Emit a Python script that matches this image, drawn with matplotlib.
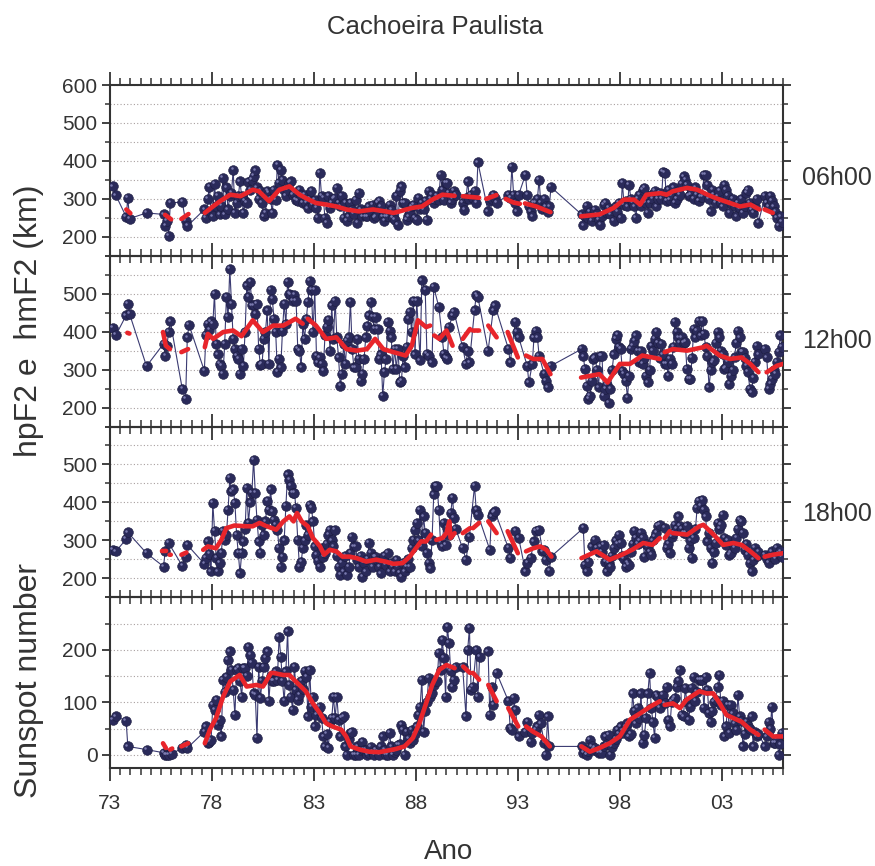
import numpy as np
import matplotlib
matplotlib.use("Agg")
import matplotlib.pyplot as plt
from matplotlib.ticker import FixedLocator, MultipleLocator
from matplotlib import transforms

plt.rcParams['font.family'] = ['Liberation Sans', 'DejaVu Sans']

n = np.nan
anos = np.arange(1973, 2006)

# medias mensais, uma linha por ano (1973 ... 2005)
h06 = [
    [n, 333, n, 309, n, n, n, n, n, 253, 302, 248],
    [n, n, n, n, n, n, n, n, n, 263, n, n],
    [n, n, n, n, n, n, n, 259, 228, 241, 202, 289],
    [n, n, n, n, n, n, 292, n, 241, 228, n, n],
    [n, n, n, n, n, n, n, 272, 250, 300, 331, 265],
    [254, 340, 282, 307, 259, 282, 355, 259, 330, 272, 307, 315],
    [377, 263, 289, 307, 346, 307, 263, 294, 289, 345, 324, 350],
    [360, 375, 330, 300, 320, 290, 254, 263, 320, 315, 300, 263],
    [324, 298, 390, 342, 377, 350, 324, 308, 324, 343, 346, 310],
    [315, 298, 294, 324, 311, 289, 311, 289, 275, 300, 320, 285],
    [298, 276, 250, 368, 307, 302, 250, 237, 307, 276, 290, 300],
    [302, 329, 289, 280, 307, 250, 289, 241, 254, 289, 270, 260],
    [298, 237, 315, 272, 254, 267, 254, 254, 280, 265, 285, 250],
    [254, 289, 294, 280, 254, 241, 254, 254, 285, 270, 250, 245],
    [307, 232, 320, 333, 289, 289, 245, 254, 265, 280, 285, 250],
    [245, 302, 272, 289, 272, 294, 245, 320, 300, 310, 290, 300],
    [307, 298, 364, 324, 298, 342, 342, 315, 289, 300, 320, 310],
    [n, n, n, 290, 270, 302, 346, 300, 311, 302, 320, 290],
    [396, n, n, n, n, n, 267, 294, 300, 311, 302, 289],
    [n, n, n, n, n, n, 311, 302, 384, 311, 289, 267],
    [311, n, n, n, 364, 311, 280, 267, 254, 289, 289, 300],
    [350, 289, 272, 300, 280, 265, 280, 331, n, n, n, n],
    [n] * 12,
    [n, 259, 230, 254, 282, 250, 265, 241, 254, 270, 259, 245],
    [232, 254, 285, 289, 263, 276, 259, 270, 241, 280, 265, 290],
    [250, 343, 285, 294, 280, 337, 300, 290, 280, 250, 300, 310],
    [280, 324, 329, 289, 263, 289, 311, 300, 320, 280, 300, 315],
    [300, 372, 368, 294, 324, 298, 307, 330, 290, 300, 320, 310],
    [340, 359, 350, 337, 307, 311, 320, 300, 330, 310, 295, 305],
    [305, 364, 364, 337, 300, 267, 324, 311, 290, 305, 320, 290],
    [280, 337, 324, 307, 263, 289, 300, 280, 254, 290, 275, 300],
    [263, 280, 315, 324, 289, 270, 263, 280, 300, 237, n, n],
    [n, 308, 289, 280, 307, 294, 280, 265, 250, 228, 254, 240],
]

h12 = [
    [n, 409, n, 391, n, n, n, n, n, 443, 474, 447],
    [n, n, n, n, n, n, n, n, n, 309, n, n],
    [n, n, n, n, n, n, n, 368, 337, 363, 399, 427],
    [n, n, n, n, n, n, 250, n, 222, 385, 418, n],
    [n, n, n, n, n, n, n, 297, 391, 421, 405, 427],
    [420, 500, 368, 340, 315, 310, 288, 368, 491, 438, 566, 474],
    [381, 354, 337, 328, 288, 354, 310, 400, 522, 491, 531, 469],
    [469, 447, 474, 354, 312, 315, 380, 399, 456, 315, 509, 487],
    [434, 399, 293, 328, 306, 403, 474, 420, 531, 500, 496, 482],
    [496, 482, 354, 350, 306, 420, 380, 434, 478, 533, 509, 400],
    [509, 337, 319, 332, 315, 297, 390, 412, 430, 350, 469, 380],
    [482, 385, 332, 257, 288, 368, 315, 376, 385, 478, 354, 306],
    [306, 381, 328, 271, 288, 328, 385, 416, 443, 478, 438, 407],
    [438, 407, 328, 340, 231, 293, 328, 425, 403, 385, 302, 354],
    [302, 354, 266, 271, 337, 306, 360, 434, 451, 400, 482, 340],
    [482, n, 324, 535, n, 509, 341, 337, n, 319, 518, n],
    [n, 465, n, 385, 341, 332, 328, 412, n, 443, 451, n],
    [n, n, n, 359, n, 315, 350, 319, n, n, 456, 496],
    [491, n, n, n, n, n, 350, n, n, 456, 469, n],
    [n, n, n, n, n, n, 354, 319, n, n, 425, 399],
    [385, n, n, n, n, 310, 266, n, 315, 385, 403, 385],
    [337, n, n, 288, 271, 253, n, 310, n, n, n, n],
    [n] * 12,
    [n, 354, 335, 301, 257, 222, 231, 271, 328, 332, 300, 253],
    [337, 337, 231, 249, 260, 213, 249, 300, 340, 381, 391, 360],
    [354, 297, 288, 271, 226, 284, 354, 363, 376, 390, 350, 320],
    [350, 315, 330, 284, 266, 300, 363, 350, 381, 399, 370, 330],
    [368, 340, 315, 315, 284, 328, 315, 360, 425, 399, 385, 370],
    [385, 370, 372, 301, 275, 275, 330, 407, 385, 403, 429, 390],
    [429, 394, 360, 337, 253, 300, 319, 324, 370, 399, 385, 350],
    [340, 301, 306, 320, 262, 284, 300, 332, 370, 403, 385, 346],
    [346, 330, 310, 293, 249, 240, 279, 320, 363, 340, n, n],
    [n, 354, 332, 249, 262, 275, 300, 288, 320, 346, 390, 360],
]

h18 = [
    [n, 275, n, 271, n, n, n, n, n, 303, 321, n],
    [n, n, n, n, n, n, n, n, n, 266, n, n],
    [n, n, n, n, n, n, n, 231, 271, n, 293, n],
    [n, n, n, n, n, n, 233, n, 257, 288, n, n],
    [n, n, n, n, n, n, n, 238, 253, 297, 265, 218],
    [399, 324, 253, 218, 240, 266, 324, 300, 315, 380, 465, 429],
    [434, 399, 315, 266, 213, 266, 297, 330, 438, 346, 400, 425],
    [513, 425, 354, 297, 266, 340, 315, 350, 403, 380, 434, 376],
    [354, 340, 328, 280, 231, 257, 300, 390, 474, 460, 443, 425],
    [425, 385, 301, 231, 244, 280, 300, 340, 315, 394, 385, 350],
    [284, 262, 245, 231, 279, 257, 266, 290, 315, 328, 300, 284],
    [328, 260, 231, 209, 240, 218, 260, 209, 231, 266, 310, 284],
    [284, 249, 231, 260, 204, 240, 218, 250, 293, 266, 231, 257],
    [257, 245, 231, 213, 240, 260, 235, 266, 218, 240, 230, 218],
    [249, 230, 215, 204, 240, 218, 231, 250, 231, 279, 301, 328],
    [346, 300, 381, 284, 363, 320, 266, 240, 226, 300, 421, 443],
    [443, 380, 293, 284, 346, 288, 332, 315, 372, 412, 360, 330],
    [n, n, n, 279, n, 249, n, 310, n, n, 443, 381],
    [368, n, n, n, n, n, n, 275, 363, 372, 376, n],
    [n, n, n, n, n, n, 279, 253, n, n, 324, n],
    [306, n, n, n, 218, 240, n, 253, n, 297, 324, n],
    [328, n, 271, 275, 249, n, 220, 257, n, n, n, n],
    [n] * 12,
    [n, n, 332, 235, 218, 244, n, 284, n, 301, 280, 270],
    [284, 270, 288, 244, 218, 240, 231, 260, 280, 300, 290, 315],
    [293, 260, 250, 231, 240, 235, 270, 290, 324, 306, 290, 300],
    [319, 306, 257, 290, 284, 270, 262, 300, 310, 320, 337, 341],
    [n, n, 332, 279, 290, 266, 310, 320, 341, 330, 363, 337],
    [330, 320, 320, 337, 279, 300, 253, 306, 330, 385, 403, 390],
    [407, 380, 363, 297, 320, 280, 240, 270, 293, 346, 330, 340],
    [368, 306, 288, 300, 262, 266, 290, 280, 306, 330, 354, 350],
    [320, 275, 290, 262, 240, 218, 249, 279, 260, 270, n, n],
    [n, 262, 250, 240, 260, 271, 260, 250, 279, 265, 271, 257],
]

manchas = [
    [n, 67, n, 73, n, n, n, n, n, 65, 16, n],
    [n, n, n, n, n, n, n, n, n, 10, n, n],
    [n, n, n, n, n, n, n, 4, 0, 0, 0, n],
    [2, n, n, n, n, n, 13, n, 19, 13, n, n],
    [n, n, n, n, n, n, n, 44, 54, 22, 25, 29],
    [95, 86, 105, 57, 67, 35, 143, 120, 149, 181, 197, 162],
    [124, 76, 162, 165, 140, 111, 165, 165, 150, 206, 190, 175],
    [117, 114, 32, 168, 108, 140, 168, 184, 197, 102, 150, 140],
    [140, 159, 143, 225, 187, 140, 102, 159, 235, 133, 110, 86],
    [168, 124, 105, 114, 140, 125, 160, 149, 73, 162, 92, 110],
    [54, 76, 86, 92, 70, 35, 16, 40, 13, 63, 70, 111],
    [70, 111, 67, 35, 70, 73, 16, 0, 30, 41, 44, 0],
    [0, 16, 0, 10, 25, 10, 10, 0, 3, 15, 5, 0],
    [10, 5, 0, 16, 35, 10, 0, 0, 41, 16, 0, 5],
    [10, 19, 20, 57, 48, 0, 44, 30, 22, 48, 29, 40],
    [54, 76, 92, 143, 44, 83, 100, 146, 111, 117, 133, 140],
    [140, 194, 162, 219, 184, 111, 244, 213, 160, 130, 143, 168],
    [n, n, n, 168, n, 73, 200, 241, 124, 130, n, 200],
    [111, 187, n, n, n, n, 197, 76, 130, 95, n, 156],
    [n, n, n, n, n, n, 102, 51, 48, 108, 86, n],
    [35, n, n, n, 44, 63, n, 25, 41, n, 48, 54],
    [76, 60, n, 22, 0, 73, 16, n, n, n, n, n],
    [n] * 12,
    [n, 16, 3, 10, 0, 8, 29, 16, 10, 13, 8, 3],
    [5, 4, 16, 35, 20, 38, 0, 15, 22, 30, 48, 40],
    [54, 45, 41, 54, 60, 35, 40, 117, 83, 60, 90, 70],
    [117, 22, 38, 70, 117, 156, 90, 63, 32, 114, 111, 89],
    [n, 114, 98, 130, 67, 54, 100, 105, 108, 130, 140, 162],
    [76, 73, 127, 100, 67, 92, 127, 149, 102, 120, 143, 143],
    [143, 89, 149, 124, 80, 63, 83, 100, 105, 130, 152, 95],
    [102, 35, 54, 95, 41, 95, 79, 60, 48, 114, 73, 65],
    [16, 40, 63, 54, 50, 73, 16, 44, 35, 40, n, n],
    [n, 16, 35, 63, 50, 92, 22, 22, 30, 0, 20, 41],
]

# medias corridas (linha vermelha), nan = interrupcao
m06_t = [73.8, 74.0, n, 75.7, 76.0, n, 76.5, 76.85, n, 77.65, 78.0, 78.4, 78.9, 79.4, 80.0, 80.3,
         80.8, 81.3, 81.8, 82.3, 82.6, 83.1, 83.6, 84.1, 84.6, 85.2, 85.9, 86.5, 86.9, 87.2, 87.8,
         88.3, 88.8, 89.3, 89.9, n, 90.3, 91.1, n, 91.45, 91.95, n, 92.4, 92.8, 93.1, n, 93.35,
         93.9, 94.6, n, 96.1, 97.0, 97.7, 98.2, 98.7, 99.0, 99.3, 100.0, 100.3, 100.6, 101.3,
         101.8, 102.3, 102.7, 103.4, 103.9, 104.4, 104.85, n, 105.1, 105.5]
m06_v = [272, 262, n, 258, 246, n, 247, 260, n, 263, 278, 294, 311, 307, 324, 320,
         294, 324, 333, 311, 302, 289, 285, 280, 272, 267, 272, 267, 263, 267, 276,
         280, 298, 311, 308, n, 307, 303, n, 300, 310, n, 300, 290, 287, n, 288,
         280, 265, n, 254, 259, 276, 298, 298, 285, 311, 315, 311, 320, 329,
         324, 311, 302, 289, 280, 285, 272, n, 272, 263]

m12_t = [73.85, 73.95, n, 75.6, 75.74, 75.94, n, 76.5, 76.83, n, 77.65, 77.8, 78.06, 78.55, 79.04,
         79.45, 80.0, 80.5, 81.0, 81.5, 82.1, 82.45, n, 82.7, 83.1, 83.6, 84.1, 84.6, 85.1, 85.6,
         86.0, 86.4, 86.9, 87.5, 87.8, 88.1, 88.5, 88.7, n, 88.9, 89.15, 89.5, 89.8, n, 90.3, 90.65,
         n, 90.8, 91.1, n, 91.55, 91.96, n, 92.5, 93.0, n, 93.4, 93.75, 94.2, 94.6, n, 96.1, 97.0,
         97.4, 98.0, 98.5, 99.1, 99.6, 99.96, n, 100.2, 100.6, 101.3, 102.1, 102.25, 102.9, 103.4,
         103.97, 104.4, 104.8, n, 105.2, 105.7, 106.0]
m12_v = [397, 395, n, 399, 363, 354, n, 346, 354, n, 359, 394, 381, 399, 403,
         388, 430, 399, 416, 416, 434, 421, n, 434, 416, 381, 385, 354, 350, 354,
         381, 354, 346, 337, 363, 430, 412, 416, n, 390, 381, 403, 363, n, 381, 407,
         n, 403, 403, n, 416, 385, n, 399, 332, n, 337, 328, 328, 288, n, 279, 288,
         266, 315, 315, 337, 332, 328, n, 346, 354, 350, 359, 363, 337, 328,
         332, 315, 293, n, 293, 310, 315]

m18_t = [75.55, 75.75, n, 75.92, 75.98, n, 76.5, 76.75, n, 77.57, 77.8, 78.2, 78.46, 78.7, 79.1,
         79.7, 80.0, 80.34, 80.6, n, 80.7, 81.15, 81.5, 81.8, 82.0, 82.17, 82.4, 82.7, 82.95, 83.3,
         83.5, 83.77, 84.1, 84.4, 84.75, 85.1, 85.56, 86.05, 86.5, 86.9, 87.35, 87.7, 88.0, 88.25,
         88.5, 88.74, n, 89.0, 89.3, 89.5, 89.64, 89.7, 89.9, n, 90.3, 90.65, n, 90.8, 91.1, n,
         91.55, 91.96, n, 92.5, 93.0, n, 93.4, 93.75, 94.1, 94.4, 94.65, n, 96.12, 96.86, 97.5,
         98.1, 98.6, 99.15, 99.6, 99.96, n, 100.2, 100.45, n, 100.6, 101.3, 101.9, 102.1, 102.6,
         103.07, 103.56, 103.97, 104.4, 104.8, n, 105.1, 105.5, 106.0]
m18_v = [272, 272, n, 262, 262, n, 262, 268, n, 275, 284, 279, 301, 332, 339,
         337, 337, 346, 339, n, 337, 328, 350, 363, 350, 372, 350, 337, 306, 284,
         262, 275, 271, 257, 257, 253, 244, 249, 244, 238, 240, 257, 279, 297,
         297, 315, n, 301, 306, 319, 350, 306, 319, n, 319, 332, n, 332, 346, n,
         350, 319, n, 324, 266, n, 271, 279, 284, 275, 257, n, 253, 271, 249,
         262, 275, 293, 288, 306, n, 306, 324, n, 319, 315, 337, 341, 315,
         288, 293, 288, 271, 253, n, 257, 262, 266]

mss_t = [75.6, 75.74, n, 75.95, 76.05, n, 76.5, 76.83, n, 77.65, 77.9, 78.2, 78.55, 78.9, 79.36,
         79.7, 80.18, 80.5, 80.9, n, 81.0, 81.5, 81.8, 82.1, 82.6, 82.95, 83.3, 83.6, 83.9, 84.34,
         84.58, 84.8, 85.24, 85.7, 86.2, 86.6, 87.0, 87.44, 87.85, 88.17, 88.5, 88.8, 89.15, 89.5,
         89.9, n, 90.32, 90.65, n, 90.8, 91.1, n, 91.55, 91.96, n, 92.53, 93.02, n, 93.4, 93.75,
         94.16, 94.57, n, 96.12, 96.53, 97.0, 97.5, 98.0, 98.5, 99.0, 99.5, 99.96, n, 100.2, 100.6,
         100.95, 101.27, 101.9, 102.25, 102.58, 102.9, 103.23, 103.56, 103.97, 104.4, 104.8, n,
         105.1, 105.52, 106.0]
mss_v = [22, 13, n, 10, 12, n, 16, 22, n, 22, 48, 70, 111, 140, 152,
         130, 133, 130, 156, n, 156, 152, 152, 140, 121, 98, 79, 60, 54, 48,
         35, 16, 10, 6, 5, 8, 11, 16, 32, 60, 98, 133, 162, 171,
         165, n, 168, 156, n, 156, 143, n, 133, 102, n, 89, 54, n, 54, 44,
         35, 16, n, 16, 6, 13, 22, 35, 67, 79, 92, 102, n, 95, 98,
         89, 105, 121, 117, 117, 98, 76, 70, 63, 48, 38, n,
         48, 35, 35]

paineis = [
    (h06, m06_t, m06_v, (150, 600), [200, 300, 400, 500, 600], '06h00', 0.455),
    (h12, m12_t, m12_v, (150, 600), [200, 300, 400, 500], '12h00', 0.50),
    (h18, m18_t, m18_v, (150, 600), [200, 300, 400, 500], '18h00', 0.49),
    (manchas, mss_t, mss_v, (-25, 300), [0, 100, 200], None, 0.5),
]


def mensal(linhas):
    v = np.array(linhas, dtype=float).ravel()
    t = np.repeat(anos, 12) + (np.tile(np.arange(12), len(anos)) + 0.5) / 12
    ok = ~np.isnan(v)
    return t[ok], v[ok]


fig = plt.figure(figsize=(8.75, 8.66), dpi=100)
esq, larg = 0.1257, 0.7691
topo, base = 0.9018, 0.1132
alt = (topo - base) / 4
cinza = '#333333'

for i, (dados, rt, rv, ylim, yt, rot, ypos) in enumerate(paineis):
    ax = fig.add_axes([esq, topo - (i + 1) * alt, larg, alt])
    ax.set_facecolor('none')
    t, v = mensal(dados)
    ax.plot(t, v, '-', color='#3b3b72', lw=0.8, zorder=2)
    ax.plot(t, v, 'o', ms=7, mfc='#2a2a5a', mec='#1c1c40', mew=0.4, zorder=3)
    brilho = transforms.offset_copy(ax.transData, fig=fig, x=-1.2, y=1.3, units='points')
    ax.plot(t, v, 'o', ms=1.8, color='#7c7cb0', mew=0, transform=brilho, zorder=4)
    ax.plot(np.array(rt) + 1900, rv, '-', color='#e8252b', lw=3.3,
            solid_capstyle='round', zorder=5)

    ax.set_xlim(1973, 2006)
    ax.set_ylim(*ylim)
    ax.xaxis.set_major_locator(FixedLocator(range(1973, 2007, 5)))
    ax.xaxis.set_minor_locator(MultipleLocator(0.5))
    ax.yaxis.set_major_locator(FixedLocator(yt))
    ax.yaxis.set_minor_locator(MultipleLocator(50))
    ax.yaxis.grid(True, which='both', ls=(0, (1, 2)), color='#a89f9f', lw=0.8, zorder=1)
    ax.tick_params(axis='x', which='both', top=True, bottom=True, direction='out',
                   color=cinza, labelbottom=(i == 3), labelsize=15, labelcolor=cinza, pad=9)
    ax.tick_params(axis='x', which='major', length=9.5, width=1.3)
    ax.tick_params(axis='x', which='minor', length=5, width=1.1)
    ax.tick_params(axis='y', which='both', left=True, right=True, direction='out',
                   color=cinza, labelsize=15, labelcolor=cinza, pad=3)
    ax.tick_params(axis='y', which='major', length=6, width=1.3)
    ax.tick_params(axis='y', which='minor', length=3.5, width=1.1)
    for s in ax.spines.values():
        s.set_linewidth(1.5)
        s.set_color(cinza)
    if i == 3:
        ax.set_xticklabels(['%02d' % (a % 100) for a in range(1973, 2007, 5)])
    if rot:
        ax.text(1.028, ypos, rot, transform=ax.transAxes, fontsize=18,
                color=cinza, va='center', ha='left')

fig.text(0.497, 0.969, 'Cachoeira Paulista', ha='center', va='center',
         fontsize=18.5, color=cinza)
fig.text(0.513, 0.016, 'Ano', ha='center', va='center', fontsize=20, color=cinza)
fig.text(0.033, 0.63, 'hpF2 e  hmF2 (km)', rotation=90, ha='center', va='center',
         fontsize=23, color=cinza)
fig.text(0.033, 0.214, 'Sunspot number', rotation=90, ha='center', va='center',
         fontsize=23, color=cinza)

fig.savefig('out.png', dpi=100)
